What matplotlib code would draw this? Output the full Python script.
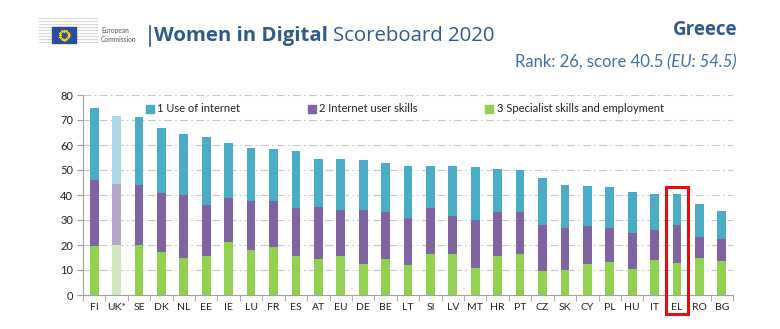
import matplotlib
matplotlib.use("Agg")
import matplotlib.pyplot as plt
from matplotlib.patches import Rectangle
import numpy as np

countries = ["FI", "UK*", "SE", "DK", "NL", "EE", "IE", "LU", "FR", "ES", "AT", "EU", "DE", "BE",
             "LT", "SI", "LV", "MT", "HR", "PT", "CZ", "SK", "CY", "PL", "HU", "IT", "EL", "RO", "BG"]
specialist = [19.7, 20.0, 20.1, 17.3, 14.7, 15.7, 21.1, 18.0, 19.2, 15.7, 14.4, 15.7, 12.5, 14.4,
              12.0, 16.4, 16.5, 10.9, 15.7, 16.4, 9.6, 9.9, 12.4, 13.2, 10.4, 14.0, 12.7, 14.9, 13.5]
user_skills = [26.3, 24.4, 23.8, 23.5, 25.3, 20.2, 17.8, 19.7, 18.5, 19.2, 20.9, 18.4, 21.6, 18.8,
               18.8, 18.5, 15.1, 19.1, 17.5, 16.8, 18.4, 16.9, 15.3, 13.6, 14.5, 12.1, 15.3, 8.4, 8.9]
use_internet = [28.7, 27.2, 27.3, 25.9, 24.3, 27.4, 21.9, 21.1, 20.7, 22.6, 19.2, 20.3, 19.9, 19.5,
                20.9, 16.7, 20.0, 21.2, 17.1, 16.8, 18.7, 17.1, 15.9, 16.4, 16.3, 14.3, 12.5, 13.1, 11.2]
legend_labels = ["1 Use of internet", "2 Internet user skills", "3 Specialist skills and employment"]
yticks = [0, 10, 20, 30, 40, 50, 60, 70, 80]

FONT = "Lato"
plt.rcParams["font.family"] = [FONT, "DejaVu Sans"]

c_blue, c_purple, c_green = "#4BACC6", "#8064A2", "#92D050"
l_blue, l_purple, l_green = "#ABD8E5", "#B4A5CA", "#D4E6BE"

fig = plt.figure(figsize=(7.8, 3.29), dpi=100)
ax = fig.add_axes([83/780, 1-295/329, 650/780, 200/329])

x = np.arange(len(countries))
g = np.array(specialist)
p = np.array(user_skills)
b = np.array(use_internet)
cols_g = [l_green if c == "UK*" else c_green for c in countries]
cols_p = [l_purple if c == "UK*" else c_purple for c in countries]
cols_b = [l_blue if c == "UK*" else c_blue for c in countries]
w = 0.39
ax.bar(x, g, w, color=cols_g, zorder=3)
ax.bar(x, p, w, bottom=g, color=cols_p, zorder=3)
ax.bar(x, b, w, bottom=g + p, color=cols_b, zorder=3)

ax.set_xlim(-0.5, len(countries) - 0.5)
ax.set_ylim(0, 80)
ax.set_yticks(yticks)
ax.set_yticklabels([str(t) for t in yticks], fontsize=8, color="#222222")
for t in yticks[1:]:
    ax.axhline(t, color="#C8C8C8", lw=0.8, dashes=(7, 3, 1.5, 3), zorder=1)

ax.set_xticks(x)
ax.set_xticklabels(countries, fontsize=7.5, color="#222222")
ax.tick_params(axis="x", which="major", length=0, pad=6)
ax.set_xticks(np.arange(-0.5, len(countries) + 0.5, 1), minor=True)
ax.tick_params(axis="x", which="minor", length=4, color="#A0A0A0", direction="out")
ax.tick_params(axis="y", length=4, color="#A0A0A0", pad=3)
for s in ["top", "right"]:
    ax.spines[s].set_visible(False)
ax.spines["left"].set_color("#A0A0A0")
ax.spines["bottom"].set_color("#A0A0A0")
ax.spines["left"].set_linewidth(0.8)
ax.spines["bottom"].set_linewidth(0.8)

# Legend (manual)
leg_y = 0.93
for sx, tx, col, lab in [(0.103, 0.114, c_blue, legend_labels[0]),
                         (0.352, 0.363, c_purple, legend_labels[1]),
                         (0.625, 0.637, c_green, legend_labels[2])]:
    ax.scatter([sx], [leg_y], marker="s", s=28, color=col, transform=ax.transAxes, clip_on=False, zorder=5)
    ax.text(tx, leg_y, lab, transform=ax.transAxes, fontsize=8, va="center", ha="left", color="#222222")

# Highlight EL
i_el = countries.index("EL")
ax.add_patch(Rectangle((i_el - 0.47, -7.6), 0.94, 43.2 + 7.6, fill=False, edgecolor="#E01010",
                       lw=2.2, clip_on=False, zorder=6))

# Header
title_col = "#2F5B8A"
hdr_font = ["Open Sans", "DejaVu Sans"]
# EU logo: building lines + flag
for k in range(9):
    fig.add_artist(plt.Line2D([39/780, 97/780], [1-(18+k*3)/329, 1-(18+k*3)/329],
                              color="#D8D8D8", lw=0.8))
fig.add_artist(Rectangle((52/780, 1-43/329), 24/780, 16/329, transform=fig.transFigure,
                         color="#2B4DA0", zorder=5))
ang = np.linspace(0, 2*np.pi, 13)[:-1]
fig.add_artist(plt.Line2D(64/780 + 4.5/780*np.cos(ang), 1-35/329 + 4.5/329*np.sin(ang),
                          ls="none", marker="*", ms=1.3, color="#F5D000", zorder=6))
fig.text(101/780, 1-31/329, "European", fontsize=4.8, color="#555555", va="center", ha="left")
fig.text(101/780, 1-39/329, "Commission", fontsize=4.8, color="#555555", va="center", ha="left")
fig.add_artist(plt.Line2D([150/780, 150/780], [1-26/329, 1-46/329], color=title_col, lw=1.2))
t1 = fig.text(154/780, 1-36/329, "Women in Digital", fontsize=14.7, fontweight="bold",
              family=hdr_font, color=title_col, va="center", ha="left")
fig.canvas.draw()
bb = t1.get_window_extent()
fig.text((bb.x1 + 5)/780, 1-36/329, "Scoreboard 2020", fontsize=14.7,
         family=hdr_font, color=title_col, va="center", ha="left")

fig.text(737/780, 1-30/329, "Greece", fontsize=13.5, fontweight="bold", family=hdr_font,
         color=title_col, va="center", ha="right")
t3 = fig.text(737/780, 1-62/329, "(EU: 54.5)", fontsize=12, style="italic", color="#41719C",
              va="center", ha="right")
fig.canvas.draw()
bb3 = t3.get_window_extent()
fig.text((bb3.x0 - 4)/780, 1-62/329, "Rank: 26, score 40.5", fontsize=12, color="#41719C",
         va="center", ha="right")

fig.savefig("out.png", dpi=100)
